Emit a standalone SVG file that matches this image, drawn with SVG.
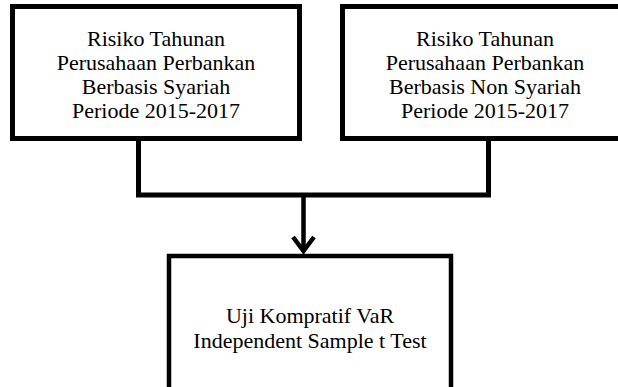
<svg xmlns="http://www.w3.org/2000/svg" width="618" height="387" viewBox="0 0 618 387">
<style>
.box{fill:#fff;stroke:#000;stroke-width:5}
.c{fill:none;stroke:#000;stroke-width:5}
</style>
<rect width="618" height="387" fill="#fff"/>
<g id="node1" font-family="Liberation Serif, Times New Roman, serif" font-size="22" text-anchor="middle" fill="#000">
<rect class="box" x="12.5" y="6.5" width="287" height="132"/>
<text x="156" y="46">Risiko Tahunan</text>
<text x="156" y="70">Perusahaan Perbankan</text>
<text x="156" y="94">Berbasis Syariah</text>
<text x="156" y="118">Periode 2015-2017</text>
</g>
<g id="node2" font-family="Liberation Serif, Times New Roman, serif" font-size="22" text-anchor="middle" fill="#000">
<rect class="box" x="342.5" y="6.5" width="290" height="132"/>
<text x="485" y="46">Risiko Tahunan</text>
<text x="485" y="70">Perusahaan Perbankan</text>
<text x="485" y="94">Berbasis Non Syariah</text>
<text x="485" y="118">Periode 2015-2017</text>
</g>
<g id="node3" font-family="Liberation Serif, Times New Roman, serif" font-size="22" text-anchor="middle" fill="#000">
<rect class="box" x="169" y="256" width="282" height="140" style="stroke-width:4.5"/>
<text x="310" y="323">Uji Kompratif VaR</text>
<text x="310" y="348">Independent Sample t Test</text>
</g>
<g id="connectors">
<polyline class="c" points="138.5,139 138.5,195 488.5,195 488.5,139"/>
<line class="c" x1="303.5" y1="195" x2="303.5" y2="252" style="stroke-width:4.5"/>
<polyline class="c" points="293,237 303.5,251 314,237" style="stroke-width:4.5"/>
</g>
</svg>
